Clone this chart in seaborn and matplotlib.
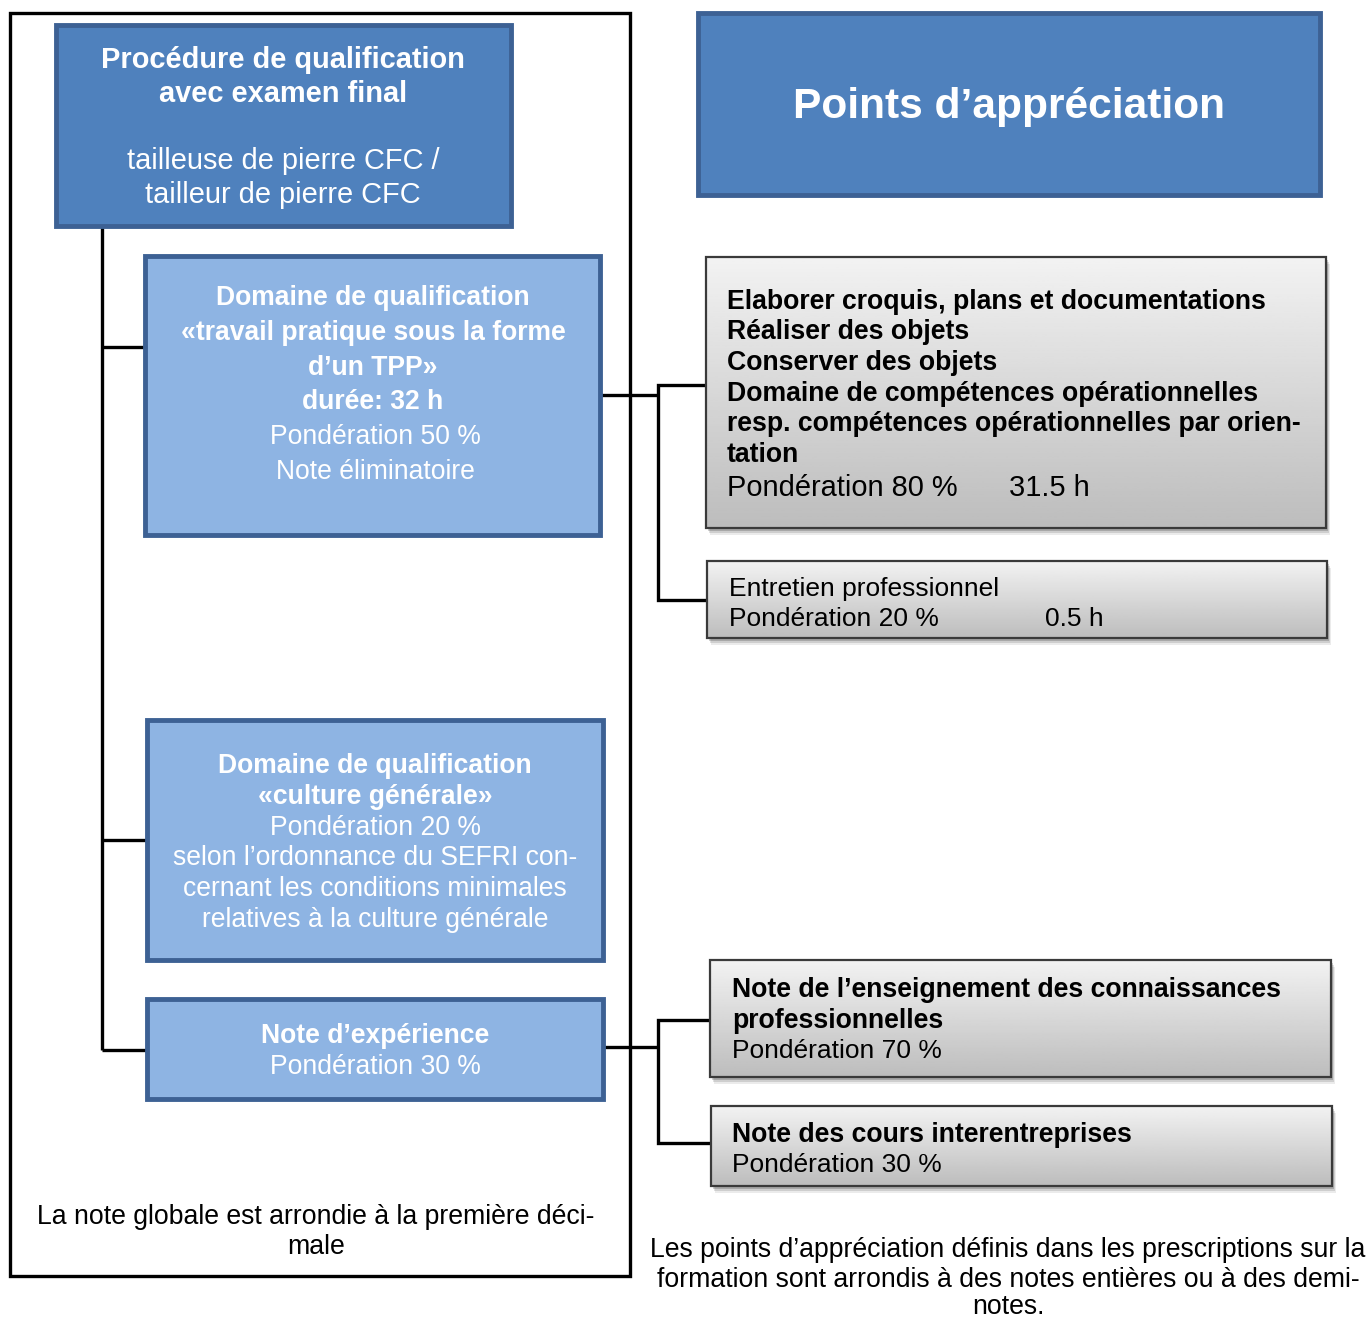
import numpy as np
import seaborn as sns
import matplotlib.pyplot as plt
from matplotlib.patches import Rectangle

# box texts (bold lines first, then normal lines)
header_bold = ["Procédure de qualification", "avec examen final"]
header_normal = ["tailleuse de pierre CFC /", "tailleur de pierre CFC"]
title_text = "Points d\u2019appréciation"

tpp_bold = ["Domaine de qualification", "«travail pratique sous la forme", "d\u2019un TPP»", "durée: 32 h"]
tpp_normal = ["Pondération 50 %", "Note éliminatoire"]

cg_bold = ["Domaine de qualification", "«culture générale»"]
cg_normal = ["Pondération 20 %", "selon l\u2019ordonnance du SEFRI con-",
             "cernant les conditions minimales", "relatives à la culture générale"]

exp_bold = ["Note d\u2019expérience"]
exp_normal = ["Pondération 30 %"]

tp1_bold = ["Elaborer croquis, plans et documentations", "Réaliser des objets",
            "Conserver des objets", "Domaine de compétences opérationnelles",
            "resp. compétences opérationnelles par orien-", "tation"]
tp1_weight = "Pondération 80 %"
tp1_hours = "31.5 h"
tp2_normal = ["Entretien professionnel", "Pondération 20 %"]
tp2_hours = "0.5 h"

ecp_bold = ["Note de l\u2019enseignement des connaissances", "professionnelles"]
ecp_normal = ["Pondération 70 %"]
cie_bold = ["Note des cours interentreprises"]
cie_normal = ["Pondération 30 %"]

note_left = ["La note globale est arrondie à la première déci-", "male"]
note_right = ["Les points d\u2019appréciation définis dans les prescriptions sur la",
              "formation sont arrondis à des notes entières ou à des demi-", "notes."]

DARK_BLUE = "#4F81BD"
LIGHT_BLUE = "#8EB4E3"
EDGE_BLUE = "#3D6194"

sns.set_theme(style="white")
plt.rcParams['font.family'] = ['Liberation Sans', 'DejaVu Sans']

W, H = 1371, 1320
fig = plt.figure(figsize=(W / 100, H / 100), dpi=100)
ax = fig.add_axes([0, 0, 1, 1])

DY = 2  # small baseline correction


def px(v):
    return v * 0.72


def blue_box(x0, y0, x1, y1, color, lw=3.5):
    ax.add_patch(Rectangle((x0, y0), x1 - x0, y1 - y0, facecolor=color,
                           edgecolor=EDGE_BLUE, lw=lw, zorder=3))


def gray_box(x0, y0, x1, y1):
    for off, a in [(7, 0.08), (5, 0.12), (3, 0.18)]:
        ax.add_patch(Rectangle((x0 + off * 0.5, y0 + off), x1 - x0, y1 - y0,
                               facecolor="black", edgecolor="none", alpha=a, zorder=2))
    grad = np.linspace(0.95, 0.74, 100).reshape(-1, 1)
    ax.imshow(grad, cmap="gray", vmin=0, vmax=1, extent=(x0, x1, y1, y0),
              origin="upper", aspect="auto", zorder=3)
    ax.add_patch(Rectangle((x0, y0), x1 - x0, y1 - y0, facecolor="none",
                           edgecolor="#3a3a3a", lw=1.6, zorder=4))


def lines(x, ys, texts, bold, size, color="black", ha="center"):
    for y, t in zip(ys, texts):
        ax.text(x, y + DY, t, ha=ha, va="center", fontsize=px(size), color=color,
                fontweight="bold" if bold else "normal", zorder=5)


def path(xs, ys, lw=2.4):
    ax.plot(xs, ys, color="black", lw=lw, solid_capstyle="butt",
            solid_joinstyle="miter", zorder=1)


# outer frame of the left part
ax.add_patch(Rectangle((10, 13), 620, 1263, facecolor="none",
                       edgecolor="black", lw=2.4, zorder=1))

# connectors
path([102, 102], [226, 1050])
path([102, 145], [347, 347])
path([102, 147], [840, 840])
path([102, 147], [1050, 1050])
path([600, 658], [395, 395])
path([705, 658, 658, 707], [385, 385, 600, 600])
path([603, 658], [1047, 1047])
path([712, 658, 658, 712], [1020, 1020, 1143, 1143])

# blue boxes
blue_box(56, 25, 511, 226, DARK_BLUE)
lines(283, [58, 92], header_bold, True, 29, "white")
lines(283, [159, 193], header_normal, False, 29, "white")

blue_box(698, 13, 1320, 195, DARK_BLUE)
lines(1009, [105], [title_text], True, 42.5, "white")

blue_box(145, 256, 600, 535, LIGHT_BLUE)
lines(373, [296, 331, 366, 400], tpp_bold, True, 26.5, "white")
lines(375, [435, 470], tpp_normal, False, 26.5, "white")

blue_box(147, 720, 603, 960, LIGHT_BLUE)
lines(375, [764, 795], cg_bold, True, 26.5, "white")
lines(375, [826, 856, 887, 918], cg_normal, False, 26.5, "white")

blue_box(147, 999, 603, 1099, LIGHT_BLUE)
lines(375, [1034], exp_bold, True, 26.5, "white")
lines(375, [1065], exp_normal, False, 26.5, "white")

# gray boxes
gray_box(706, 257, 1326, 528)
lines(727, [300, 330, 361, 392, 422, 453], tp1_bold, True, 26.6, ha="left")
lines(727, [486], [tp1_weight], False, 29, ha="left")
lines(1009, [486], [tp1_hours], False, 29, ha="left")

gray_box(707, 561, 1327, 638)
lines(729, [587, 617], tp2_normal, False, 26.4, ha="left")
lines(1045, [617], [tp2_hours], False, 26.4, ha="left")

gray_box(710, 960, 1331, 1077)
lines(732, [988, 1019], ecp_bold, True, 26.6, ha="left")
lines(732, [1049], ecp_normal, False, 26.4, ha="left")

gray_box(711, 1106, 1332, 1186)
lines(732, [1133], cie_bold, True, 26.6, ha="left")
lines(732, [1163], cie_normal, False, 26.4, ha="left")

# footnotes
lines(316, [1215, 1245], note_left, False, 26.6)
lines(1008, [1248, 1278, 1305], note_right, False, 26.6)

ax.set_xlim(0, W)
ax.set_ylim(H, 0)
ax.axis("off")
fig.savefig("out.png", dpi=100, facecolor="white")
